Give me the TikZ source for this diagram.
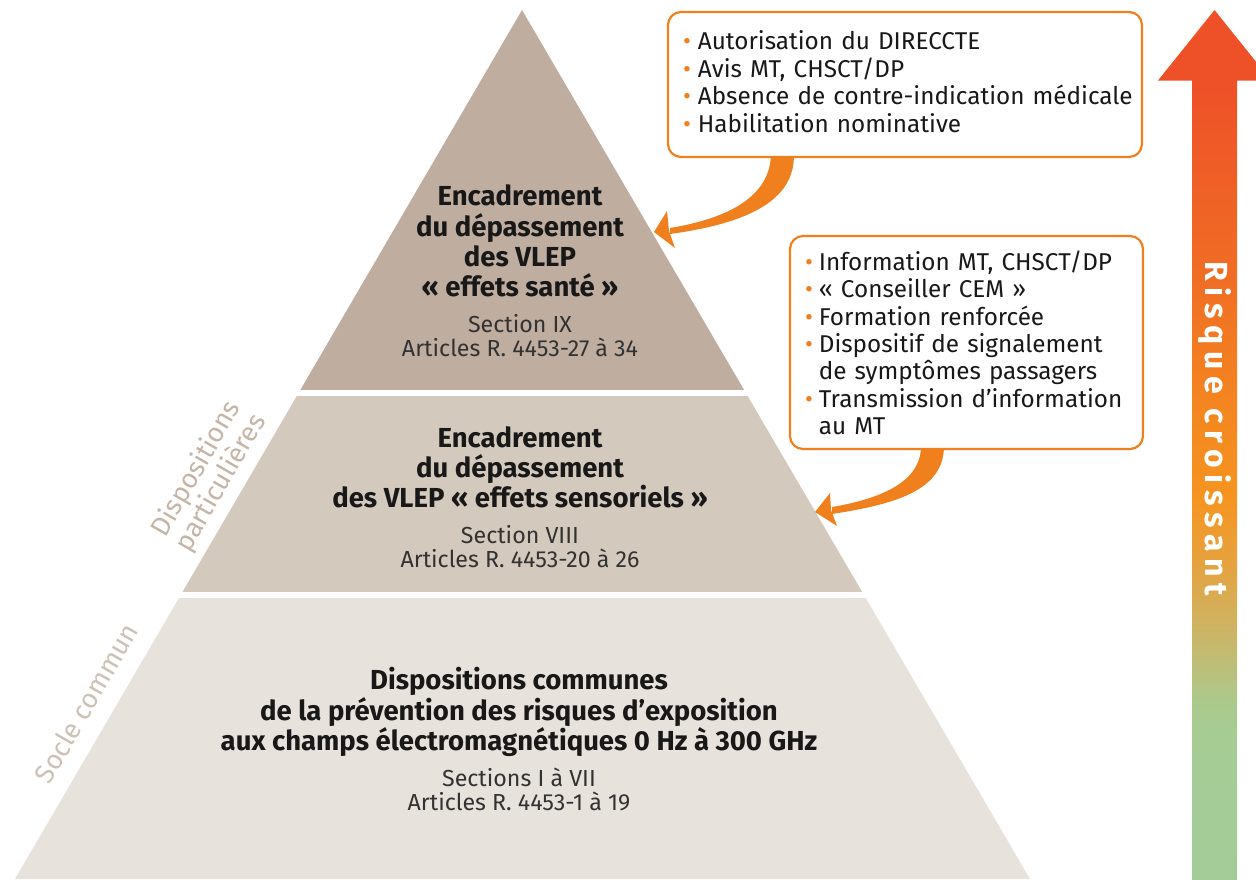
\documentclass[tikz,border=0pt]{standalone}
\usepackage{fontspec}
\setmainfont{Fira Sans}
\newfontfamily\riskfont{Fira Sans}[LetterSpace=21]
\usetikzlibrary{calc}

\definecolor{tierA}{RGB}{191,174,160}
\definecolor{tierB}{RGB}{212,201,189}
\definecolor{tierC}{RGB}{232,226,220}
\definecolor{cemorange}{RGB}{240,128,30}
\definecolor{inktext}{RGB}{24,24,24}
\definecolor{reftext}{RGB}{50,50,50}
\definecolor{sideA}{RGB}{196,181,166}
\definecolor{sideB}{RGB}{205,193,181}
\definecolor{rg0}{RGB}{163,204,152}
\definecolor{rg1}{RGB}{166,204,148}
\definecolor{rg2}{RGB}{174,200,138}
\definecolor{rg3}{RGB}{205,180,100}
\definecolor{rg4}{RGB}{230,162,62}
\definecolor{rg5}{RGB}{246,148,32}
\definecolor{rg6}{RGB}{244,135,32}
\definecolor{rg7}{RGB}{240,110,36}
\definecolor{rg8}{RGB}{238,80,40}

% vertical ramp for the "increasing risk" shaft (path box spans 25bp..75bp)
\pgfdeclareverticalshading{riskramp}{100bp}{%
  color(0bp)=(rg0); color(25bp)=(rg0); color(34.3bp)=(rg1);
  color(36.4bp)=(rg2); color(40.6bp)=(rg3); color(44.8bp)=(rg4);
  color(48.9bp)=(rg5); color(54.2bp)=(rg6); color(62.5bp)=(rg7);
  color(75bp)=(rg8); color(100bp)=(rg8)}

\tikzset{
  titletext/.style={align=center, text=inktext,
    font=\fontsize{27.5}{30.2}\selectfont\bfseries, inner sep=0pt},
  reftextstyle/.style={align=center, text=reftext,
    font=\fontsize{23.2}{24.2}\selectfont, inner sep=0pt},
  sidelabel/.style={align=center, rotate=60, inner sep=0pt,
    font=\fontsize{27}{28.5}\selectfont},
  notebox/.style={draw=cemorange, line width=2.2pt, rounded corners=13pt,
    fill=white, inner xsep=15pt, inner ysep=0pt, align=left,
    font=\fontsize{24.3}{27.3}\selectfont, text=inktext},
  swoosh/.style={fill=cemorange, draw=none},
}
\newcommand{\bul}{\textcolor{cemorange}{•}}

\begin{document}
\begin{tikzpicture}[x=1pt,y=-1pt]
\useasboundingbox (0,0) rectangle (1256,879);

% ---- pyramid: three bands clipped to the triangle
\begin{scope}
  \clip (522,10) -- (1030,879) -- (15,879) -- cycle;
  \fill[tierA] (0,0)   rectangle (1256,390);
  \fill[tierB] (0,396) rectangle (1256,592);
  \fill[tierC] (0,598) rectangle (1256,879);
\end{scope}

% ---- top band
\node[titletext] (topT) at (520,241) {Encadrement\\du dépassement\\des VLEP\\« effets santé »};
\node[reftextstyle] (topR) at (520,335.5) {Section IX\\Articles R. 4453-27 à 34};

% ---- middle band
\node[titletext] (midT) at (520,467.5) {Encadrement\\du dépassement\\des VLEP « effets sensoriels »};
\node[reftextstyle] (midR) at (520,546.5) {Section VIII\\Articles R. 4453-20 à 26};

% ---- bottom band
\node[titletext] (botT) at (519,712) {Dispositions communes\\de la prévention des risques d’exposition\\aux champs électromagnétiques 0 Hz à 300 GHz};
\node[reftextstyle] (botR) at (519,789.5) {Sections I à VII\\Articles R. 4453-1 à 19};

% ---- labels along the left slope
\node[sidelabel, text=sideA] (lblPart) at (209,476) {Dispositions\\particulières};
\node[sidelabel, text=sideB] (lblSocle) at (86,703) {Socle commun};

% ---- note boxes
\node[notebox, minimum width=474pt, minimum height=145pt, text width=444pt] (box1) at (905,84.5) {%
  \raisebox{0pt}[\dimexpr\height+1.5pt\relax]{%
  \begin{tabular}{@{}l@{\hspace{7pt}}l@{}}
  \bul & Autorisation du DIRECCTE\\
  \bul & Avis MT, CHSCT/DP\\
  \bul & Absence de contre-indication médicale\\
  \bul & Habilitation nominative
  \end{tabular}}};
\node[notebox, minimum width=353pt, minimum height=213pt, text width=323pt] (box2) at (966.5,342.5) {%
  \raisebox{0pt}[\dimexpr\height+8pt\relax]{%
  \begin{tabular}{@{}l@{\hspace{6pt}}l@{}}
  \bul & Information MT, CHSCT/DP\\
  \bul & « Conseiller CEM »\\
  \bul & Formation renforcée\\
  \bul & Dispositif de signalement\\
       & de symptômes passagers\\
  \bul & Transmission d’information\\
       & au MT
  \end{tabular}}};

% ---- curved arrows from the boxes onto the pyramid
\coordinate (tip1) at (654,232);
\coordinate (tip2) at (815,512);
\coordinate (s1) at ($(box1.south west)+(104,0)$);
\coordinate (s2) at ($(box2.south west)+(132,0)$);

\fill[swoosh] ($(s1)+(0,-2)$) .. controls ($(s1)+(-2,38)$) and ($(tip1)+(76,-14)$) .. ($(tip1)+(16,-4)$)
  -- ($(tip1)+(16,2)$) .. controls ($(tip1)+(81,-7)$) and ($(s1)+(23,48)$) .. ($(s1)+(23,-2)$) -- cycle;
\fill[swoosh] (tip1) -- ($(tip1)+(13,-21)$) -- ($(tip1)+(15,-1)$) -- ($(tip1)+(21,16)$) -- cycle;

\fill[swoosh] ($(s2)+(0,-2)$) .. controls ($(s2)+(-1,30)$) and ($(tip2)+(70,-14)$) .. ($(tip2)+(17,-5)$)
  -- ($(tip2)+(17,2)$) .. controls ($(tip2)+(75,-7)$) and ($(s2)+(22,42)$) .. ($(s2)+(23,-2)$) -- cycle;
\fill[swoosh] (tip2) -- ($(tip2)+(15,-19)$) -- ($(tip2)+(16,-2)$) -- ($(tip2)+(22,14)$) -- cycle;

% ---- increasing-risk arrow
\fill[rg8] (1214.5,10) -- (1271,80.5) -- (1158,80.5) -- cycle;
\shade[shading=riskramp] (1192,80) rectangle (1237,879);
\node[rotate=-90, text=white, inner sep=0pt, font=\riskfont\bfseries\fontsize{32}{32}\selectfont] (risk) at (1214.5,428.5) {Risque croissant};
\end{tikzpicture}
\end{document}
